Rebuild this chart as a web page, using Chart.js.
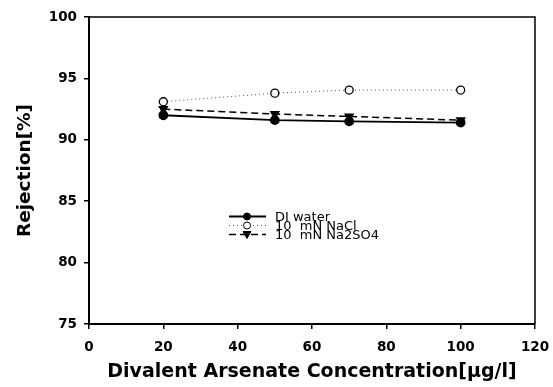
<!DOCTYPE html>
<html>
<head>
<meta charset="utf-8">
<script src="https://cdn.jsdelivr.net/npm/chart.js@4.4.1/dist/chart.umd.min.js"></script>
<style>
  html, body { margin: 0; padding: 0; background: #fff; }
  #wrap { width: 553px; height: 387px; }
</style>
</head>
<body>
<div id="wrap"><canvas id="rejChart" width="553" height="387"></canvas></div>
<script>
// --- dados ---
const concentrations = [20, 50, 70, 100];
const diWater = [92.0, 91.6, 91.5, 91.4];
const naCl = [93.1, 93.8, 94.05, 94.05];
const na2so4 = [92.5, 92.1, 91.9, 91.6];
const seriesNames = ['DI water', '10  mN NaCl', '10  mN Na2SO4'];
const xTicks = [0, 20, 40, 60, 80, 100, 120];
const yTicks = [75, 80, 85, 90, 95, 100];

const toPoints = vals => concentrations.map((x, i) => ({ x: x, y: vals[i] }));

const tickFont = { family: 'DejaVu Sans', size: 13.5, weight: 'bold' };

// moldura de cima/direita + legenda desenhada à mão
const framePlugin = {
    id: 'frameAndLegend',
    afterDraw(chart) {
        const ctx = chart.ctx;
        const a = chart.chartArea;
        ctx.save();
        ctx.strokeStyle = '#000';
        ctx.lineWidth = 1.5;
        ctx.beginPath();
        ctx.moveTo(a.left, a.top);
        ctx.lineTo(a.right, a.top);
        ctx.lineTo(a.right, a.bottom);
        ctx.stroke();

        // legenda
        const rows = [216.5, 225.5, 234.5];
        const x0 = 229, x1 = 266, xm = 247;
        chart.data.datasets.forEach((ds, i) => {
            const y = rows[i];
            ctx.beginPath();
            ctx.setLineDash(ds.borderDash || []);
            ctx.lineWidth = ds.borderWidth;
            ctx.strokeStyle = ds.borderColor;
            ctx.moveTo(x0, y);
            ctx.lineTo(x1, y);
            ctx.stroke();
            ctx.setLineDash([]);
            ctx.fillStyle = ds.pointBackgroundColor;
            ctx.strokeStyle = '#000';
            ctx.lineWidth = 1;
            ctx.beginPath();
            if (ds.pointStyle === 'circle') {
                ctx.arc(xm, y, 3.5, 0, Math.PI * 2);
            } else {
                ctx.moveTo(xm - 4, y - 3);
                ctx.lineTo(xm + 4, y - 3);
                ctx.lineTo(xm, y + 4);
                ctx.closePath();
            }
            ctx.fill();
            ctx.stroke();
            ctx.fillStyle = '#000';
            ctx.font = '13px "DejaVu Sans"';
            ctx.textBaseline = 'middle';
            ctx.textAlign = 'left';
            ctx.fillText(seriesNames[i], 275, y + 1);
        });
        ctx.restore();
    }
};

new Chart(document.getElementById('rejChart'), {
    type: 'line',
    data: {
        datasets: [
            {
                label: seriesNames[0],
                data: toPoints(diWater),
                borderColor: '#000',
                borderWidth: 1.8,
                pointStyle: 'circle',
                pointRadius: 4,
                pointBackgroundColor: '#000',
                pointBorderColor: '#000',
                tension: 0
            },
            {
                label: seriesNames[1],
                data: toPoints(naCl),
                borderColor: '#555',
                borderWidth: 1,
                borderDash: [1, 3],
                pointStyle: 'circle',
                pointRadius: 4,
                pointBackgroundColor: '#fff',
                pointBorderColor: '#000',
                pointBorderWidth: 1.3,
                tension: 0
            },
            {
                label: seriesNames[2],
                data: toPoints(na2so4),
                borderColor: '#000',
                borderWidth: 1.5,
                borderDash: [7, 4],
                pointStyle: 'triangle',
                pointRotation: 180,
                pointRadius: 4.5,
                pointBackgroundColor: '#000',
                pointBorderColor: '#000',
                tension: 0
            }
        ]
    },
    options: {
        responsive: false,
        animation: false,
        layout: { padding: { top: 17, right: 18, left: 0, bottom: 0 } },
        plugins: {
            legend: { display: false },
            tooltip: { enabled: false }
        },
        scales: {
            x: {
                type: 'linear',
                min: 0,
                max: 120,
                afterBuildTicks: s => { s.ticks = xTicks.map(v => ({ value: v })); },
                afterFit: s => {
                    s.height = 63;
                    s.paddingLeft = 0;
                    s.paddingRight = 0; // o "120" pode sair da área
                },
                ticks: { color: '#000', font: tickFont, padding: 10, maxRotation: 0 },
                grid: { drawOnChartArea: false, drawTicks: true, tickLength: 5, color: '#000', lineWidth: 1.5 },
                border: { display: true, color: '#000', width: 2 },
                title: {
                    display: true,
                    text: 'Divalent Arsenate Concentration[μg/l]',
                    color: '#000',
                    font: { family: 'DejaVu Sans', size: 19, weight: 'bold' },
                    padding: { top: 9 }
                }
            },
            y: {
                min: 75,
                max: 100,
                afterBuildTicks: s => { s.ticks = yTicks.map(v => ({ value: v })); },
                afterFit: s => {
                    s.width = 89;
                    s.paddingTop = 0;
                    s.paddingBottom = 0;
                },
                ticks: { color: '#000', font: tickFont, padding: 7 },
                grid: { drawOnChartArea: false, drawTicks: true, tickLength: 5, color: '#000', lineWidth: 1.5 },
                border: { display: true, color: '#000', width: 2 },
                title: {
                    display: true,
                    text: 'Rejection[%]',
                    color: '#000',
                    font: { family: 'DejaVu Sans', size: 18.5, weight: 'bold' },
                    padding: { top: 14, bottom: 0 }
                }
            }
        }
    },
    plugins: [framePlugin]
});
</script>
</body>
</html>
